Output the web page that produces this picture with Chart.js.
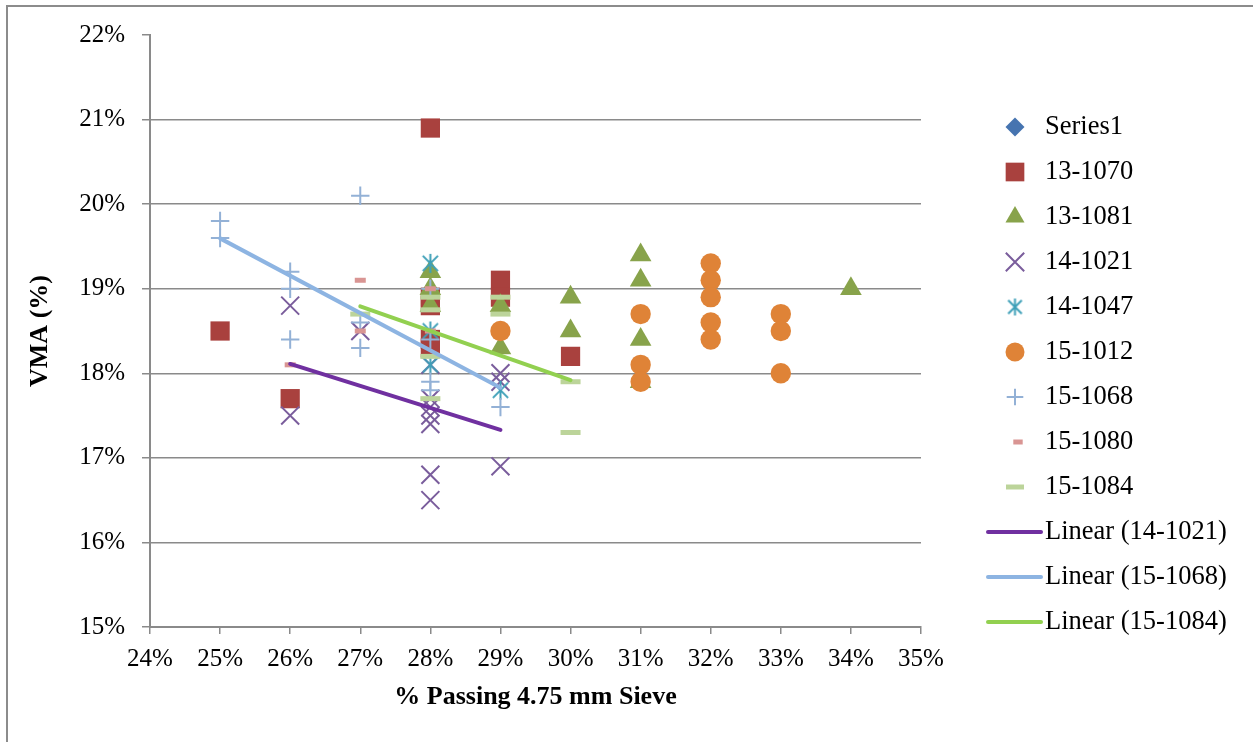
<!DOCTYPE html>
<html lang="en">
<head>
  <meta charset="UTF-8">
  <title>VMA vs % Passing 4.75 mm Sieve</title>
  <script src="https://cdn.jsdelivr.net/npm/chart.js"></script>
  <style>
    html, body {
      margin: 0;
      padding: 0;
      background: #fff;
      overflow: hidden;
    }
    .frame {
      position: absolute;
      left: 6px;
      top: 5px;
      width: 1400px;
      height: 900px;
      border: 2px solid #8c8c8c;
    }
    #chart {
      position: absolute;
      left: 0;
      top: 0;
    }
  </style>
</head>
<body>
<div class="frame"></div>
<canvas id="chart" width="1253" height="742"></canvas>

<script>
// values (percent)
const xTicks = [24, 25, 26, 27, 28, 29, 30, 31, 32, 33, 34, 35];
const yTicks = [15, 16, 17, 18, 19, 20, 21, 22];

const series1X = [];
const series1Y = [];

const s131070X = [25, 26, 28, 28, 28, 28, 28, 29, 29, 30];
const s131070Y = [18.5, 17.7, 20.9, 18.9, 18.8, 18.4, 18.3, 19.1, 18.9, 18.2];

const s131081X = [28, 28, 28, 29, 29, 30, 30, 31, 31, 31, 31, 34];
const s131081Y = [19.2, 19.0, 18.8, 18.8, 18.3, 18.9, 18.5, 19.4, 19.1, 18.4, 17.9, 19.0];

const s141021X = [26, 26, 27, 28, 28, 28, 28, 28, 28, 28, 29, 29, 29];
const s141021Y = [18.8, 17.5, 18.5, 18.1, 17.7, 17.6, 17.5, 17.4, 16.8, 16.5, 18.0, 17.9, 16.9];

const s141047X = [28, 28, 28, 29];
const s141047Y = [19.3, 18.5, 18.1, 17.8];

const s151012X = [29, 31, 31, 31, 32, 32, 32, 32, 32, 33, 33, 33];
const s151012Y = [18.5, 18.7, 18.1, 17.9, 19.3, 19.1, 18.9, 18.6, 18.4, 18.7, 18.5, 18.0];

const s151068X = [25, 25, 26, 26, 26, 27, 27, 27, 28, 28, 28, 28, 29];
const s151068Y = [19.8, 19.6, 19.2, 19.0, 18.4, 20.1, 18.6, 18.3, 19.0, 18.4, 17.9, 17.8, 17.6];

const s151080X = [26, 27, 27, 28, 28];
const s151080Y = [18.1, 19.1, 18.5, 19.0, 18.5];

const s151084X = [27, 28, 28, 28, 28, 29, 29, 30, 30];
const s151084Y = [18.7, 18.9, 18.75, 18.2, 17.7, 18.9, 18.7, 17.9, 17.3];

const FONT = '"Times New Roman", "Liberation Serif", serif';
const GRID = '#8a8a8a';

function pts(xs, ys) {
  return xs.map((x, i) => ({x: x, y: ys[i]}));
}

// least squares trend, drawn from min x to max x like Excel does
function trend(xs, ys) {
  const n = xs.length;
  const mx = xs.reduce((a, b) => a + b, 0) / n;
  const my = ys.reduce((a, b) => a + b, 0) / n;
  let sxy = 0, sxx = 0;
  xs.forEach((x, i) => { sxy += (x - mx) * (ys[i] - my); sxx += (x - mx) * (x - mx); });
  const b = sxy / sxx;
  const x0 = Math.min(...xs), x1 = Math.max(...xs);
  return [{x: x0, y: my + b * (x0 - mx)}, {x: x1, y: my + b * (x1 - mx)}];
}

// excel style asterisk: an X plus a vertical bar
function asterisk(size, color, lw) {
  const c = document.createElement('canvas');
  c.width = size; c.height = size;
  const g = c.getContext('2d');
  const h = size / 2, r = size / 2 - 1;
  g.strokeStyle = color;
  g.lineWidth = lw;
  g.beginPath();
  g.moveTo(h, h - r); g.lineTo(h, h + r);
  const d = r * 0.8;
  g.moveTo(h - d, h - d); g.lineTo(h + d, h + d);
  g.moveTo(h - d, h + d); g.lineTo(h + d, h - d);
  g.stroke();
  return c;
}

const marks = [
  {label: 'Series1', xs: series1X, ys: series1Y, style: 'rectRot', color: '#4674b0', r: 9.5, lr: 9.5, bw: 0},
  {label: '13-1070', xs: s131070X, ys: s131070Y, style: 'rect', color: '#a9413e', r: 13.6, lr: 13.2, bw: 0},
  {label: '13-1081', xs: s131081X, ys: s131081Y, style: 'triangle', color: '#88a34b', r: 12.5, lr: 11, bw: 0},
  {label: '14-1021', xs: s141021X, ys: s141021Y, style: 'crossRot', color: '#7a5d9c', r: 12.7, lr: 13, bw: 2},
  {label: '14-1047', xs: s141047X, ys: s141047Y, style: asterisk(21, '#3fa0b8', 2), legendStyle: asterisk(19, '#3fa0b8', 2), color: '#3fa0b8', r: 10, lr: 9, bw: 2},
  {label: '15-1012', xs: s151012X, ys: s151012Y, style: 'circle', color: '#df8337', r: 10.2, lr: 9.5, bw: 0},
  {label: '15-1068', xs: s151068X, ys: s151068Y, style: 'cross', color: '#93b1d6', r: 9.2, lr: 8.3, bw: 2},
  {label: '15-1080', xs: s151080X, ys: s151080Y, style: 'line', color: '#d99593', r: 5.5, lr: 4.7, bw: 5},
  {label: '15-1084', xs: s151084X, ys: s151084Y, style: 'line', color: '#bcd49a', r: 10, lr: 9, bw: 5}
];

const trends = [
  {label: 'Linear (14-1021)', xs: s141021X, ys: s141021Y, color: '#7030a0'},
  {label: 'Linear (15-1068)', xs: s151068X, ys: s151068Y, color: '#8db4e2'},
  {label: 'Linear (15-1084)', xs: s151084X, ys: s151084Y, color: '#92d050'}
];

const total = marks.length + trends.length;
const datasets = [];
marks.forEach((m, i) => {
  datasets.push({
    label: m.label,
    data: pts(m.xs, m.ys),
    pointStyle: m.style,
    pointRadius: m.r,
    pointHoverRadius: m.r,
    backgroundColor: m.color,
    borderColor: m.color,
    pointBorderWidth: m.bw,
    showLine: false,
    order: total - i
  });
});
trends.forEach((t, i) => {
  datasets.push({
    label: t.label,
    data: trend(t.xs, t.ys),
    showLine: true,
    borderColor: t.color,
    borderWidth: 4,
    pointRadius: 0,
    borderCapStyle: 'round',
    order: trends.length - i
  });
});

// legend on the right, drawn on the canvas
const sideLegend = {
  id: 'sideLegend',
  afterDraw(chart) {
    const ctx = chart.ctx;
    const cx = 1015, tx = 1045, y0 = 127, step = 45;
    ctx.save();
    ctx.font = '26.5px ' + FONT;
    ctx.textBaseline = 'middle';
    ctx.textAlign = 'left';
    marks.forEach((m, i) => {
      const y = y0 + i * step;
      const st = m.legendStyle || m.style;
      ctx.fillStyle = m.color;
      ctx.strokeStyle = m.color;
      ctx.lineWidth = m.bw;
      if (typeof st === 'object') {
        ctx.drawImage(st, cx - st.width / 2, y - st.height / 2);
      } else {
        Chart.helpers.drawPoint(ctx, {pointStyle: st, radius: m.lr, rotation: 0, borderWidth: m.bw}, m.style === 'line' && m.lr < 6 ? cx + 3 : cx, y);
      }
      ctx.fillStyle = '#000';
      ctx.fillText(m.label, tx, y);
    });
    trends.forEach((t, i) => {
      const y = y0 + (marks.length + i) * step;
      ctx.strokeStyle = t.color;
      ctx.lineWidth = 4;
      ctx.lineCap = 'round';
      ctx.beginPath();
      ctx.moveTo(988, y);
      ctx.lineTo(1041, y);
      ctx.stroke();
      ctx.fillStyle = '#000';
      ctx.fillText(t.label, tx, y);
    });
    ctx.restore();
  }
};

new Chart(document.getElementById('chart'), {
  type: 'scatter',
  data: {datasets: datasets},
  plugins: [sideLegend],
  options: {
    responsive: false,
    animation: false,
    layout: {padding: {left: 0, top: 35, right: 332, bottom: 0}},
    plugins: {
      legend: {display: false},
      tooltip: {enabled: false}
    },
    scales: {
      x: {
        type: 'linear',
        min: xTicks[0],
        max: xTicks[xTicks.length - 1],
        afterBuildTicks: s => { s.ticks = xTicks.map(v => ({value: v})); },
        afterFit: s => { s.height = 115; },
        ticks: {
          callback: v => v + '%',
          color: '#000',
          font: {family: FONT, size: 25},
          padding: 10,
          maxRotation: 0
        },
        grid: {drawOnChartArea: false, drawTicks: true, tickLength: 7, color: GRID, lineWidth: 1.5},
        border: {color: GRID, width: 2},
        title: {
          display: true,
          text: '% Passing 4.75 mm Sieve',
          color: '#000',
          font: {family: FONT, size: 26, weight: 'bold'},
          padding: {top: 0, bottom: 29}
        }
      },
      y: {
        type: 'linear',
        min: yTicks[0],
        max: yTicks[yTicks.length - 1],
        afterBuildTicks: s => { s.ticks = yTicks.map(v => ({value: v})); },
        afterFit: s => { s.width = 150; },
        ticks: {
          callback: v => v + '%',
          color: '#000',
          font: {family: FONT, size: 25},
          padding: 17
        },
        grid: {
          drawTicks: true,
          tickLength: 8,
          color: c => (c.tick && c.tick.value === 22) ? 'rgba(0,0,0,0)' : GRID,
          tickColor: GRID,
          lineWidth: 1.5
        },
        border: {color: GRID, width: 2},
        title: {
          display: true,
          text: 'VMA (%)',
          color: '#000',
          font: {family: FONT, size: 26, weight: 'bold'},
          padding: {top: 25, bottom: 0}
        }
      }
    }
  }
});
</script>
</body>
</html>
